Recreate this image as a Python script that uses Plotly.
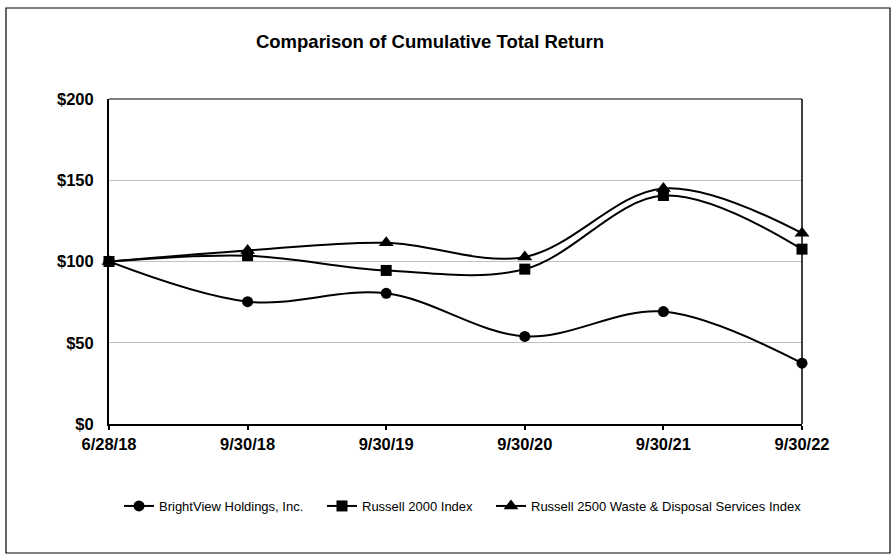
import plotly.graph_objects as go

dates = ["6/28/18", "9/30/18", "9/30/19", "9/30/20", "9/30/21", "9/30/22"]
brightview = [100, 75.3, 80.4, 53.9, 69.2, 37.4]
russell_2000 = [100, 103.6, 94.5, 95.3, 140.6, 107.6]
russell_2500_wd = [100, 106.8, 111.5, 102.8, 145.0, 117.4]

series = [
    ("BrightView Holdings, Inc.", brightview, "circle", 11, "legend"),
    ("Russell 2000 Index", russell_2000, "square", 11, "legend2"),
    ("Russell 2500 Waste & Disposal Services Index", russell_2500_wd, "triangle-up", 13, "legend3"),
]

fig = go.Figure()
for name, vals, sym, sz, lg in series:
    fig.add_trace(go.Scatter(
        x=dates, y=vals, name=name, mode="lines+markers",
        line=dict(color="black", width=2, shape="spline", smoothing=1),
        marker=dict(symbol=sym, size=sz, color="black"),
        cliponaxis=False, legend=lg,
    ))

W, H = 895, 560
L, R, T, B = 109, 802, 99, 424
pw, ph = R - L, B - T

def px(x):
    return (x - L) / pw

def py(y):
    return (B - y) / ph

FONT = "Liberation Sans, Arial, sans-serif"

def leg(text_left):
    return dict(orientation="h", x=px(text_left - 40), xanchor="left",
                y=py(506), yanchor="middle",
                font=dict(size=13, color="black"), itemwidth=30,
                bgcolor="rgba(0,0,0,0)")

fig.update_layout(
    width=W, height=H,
    margin=dict(l=L, r=W - R, t=T, b=H - B),
    paper_bgcolor="white", plot_bgcolor="white",
    font=dict(family=FONT, color="black"),
    title=dict(text="<b>Comparison of Cumulative Total Return</b>",
               x=430 / W, xanchor="center", y=1 - 42 / H, yanchor="middle",
               yref="container", font=dict(size=18.5, color="black")),
    showlegend=True,
    legend=leg(159),
    legend2=leg(362),
    legend3=leg(531),
    xaxis=dict(type="category", range=[0, 5], showgrid=False,
               showline=True, linecolor="black", linewidth=2,
               ticks="outside", ticklen=4, tickwidth=1.5, tickcolor="black",
               tickfont=dict(size=16.5, color="black", family=FONT),
               tickprefix="<b>", ticksuffix="</b>", fixedrange=True, zeroline=False),
    yaxis=dict(range=[0, 200], dtick=50, showgrid=True, gridcolor="#c0c0c0", gridwidth=1,
               showline=True, linecolor="black", linewidth=2, zeroline=False,
               tickprefix="<b>$", ticksuffix="</b>", ticks="", ticklabelstandoff=10,
               tickfont=dict(size=16.5, color="black", family=FONT)),
    shapes=[
        dict(type="line", xref="paper", yref="paper", x0=0, x1=1, y0=1, y1=1,
             line=dict(color="black", width=1.2)),
        dict(type="line", xref="paper", yref="paper", x0=1, x1=1, y0=0, y1=1,
             line=dict(color="black", width=1.5)),
        dict(type="rect", xref="paper", yref="paper",
             x0=px(6), x1=px(890), y0=py(553), y1=py(8),
             line=dict(color="black", width=1.2), fillcolor="rgba(0,0,0,0)", layer="below"),
    ],
)

fig.write_html("out.html", config={"displayModeBar": False},
               post_script="document.body.style.margin='0';document.body.style.padding='0';")
